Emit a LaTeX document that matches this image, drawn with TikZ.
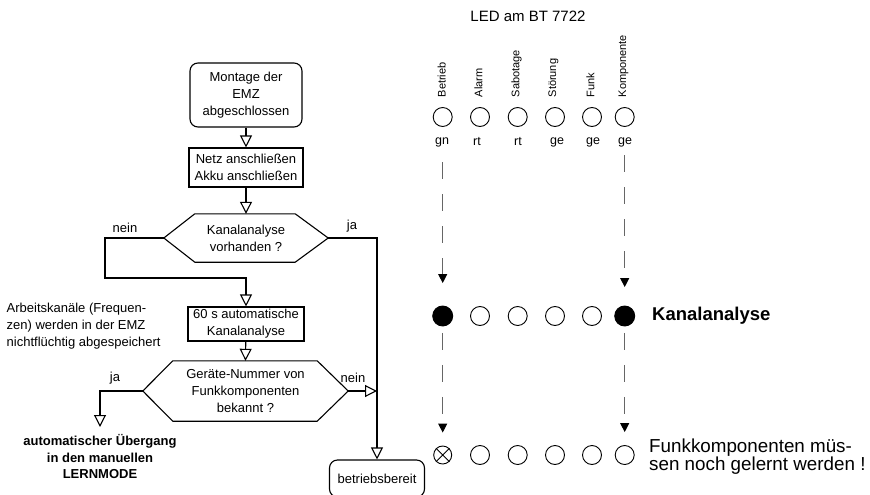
\documentclass[tikz,border=0pt]{standalone}
\usepackage{fontspec}
\setmainfont{Liberation Sans}
\usetikzlibrary{arrows.meta}
\begin{document}
\begin{tikzpicture}[x=1pt,y=-1pt,
  base/.style={font=\fontsize{13}{17}\selectfont, align=center, inner sep=0pt},
  fbox/.style={base, draw, line width=1.1pt},
  rbox/.style={fbox, rounded corners=8pt},
  hexline/.style={line width=1.1pt, line join=miter},
  flow/.style={line width=1.1pt, -{Triangle[open,length=12pt,width=12pt]}},
  led/.style={circle, draw, line width=0.9pt, minimum size=19pt, inner sep=0pt},
  ledon/.style={led, fill=black, minimum size=20pt},
  dline/.style={draw=black!60, line width=1pt, dash pattern=on 17pt off 15pt,
    -{Triangle[length=9pt,width=9pt,color=black]}},
  lbl/.style={base, font=\fontsize{11}{13}\selectfont, rotate=90, anchor=west},
  col/.style={base, font=\fontsize{12.5}{14}\selectfont}
]
\useasboundingbox (0,0) rectangle (870,495);

% ---------- flowchart ----------
\node[rbox, minimum width=112pt, minimum height=64pt] (start) at (246,95)
  {Montage der\\EMZ\\abgeschlossen};
\node[fbox, minimum width=114pt, minimum height=39pt] (netz) at (246,167.5)
  {Netz anschließen\\Akku anschließen};
\node[base, minimum width=164pt, minimum height=48pt] (h1) at (246,238)
  {Kanalanalyse\\vorhanden ?};
\draw[hexline] (h1.west) -- ([xshift=31pt]h1.north west) -- ([xshift=-33pt]h1.north east)
  -- (h1.east) -- ([xshift=-33pt]h1.south east) -- ([xshift=31pt]h1.south west) -- cycle;
\node[fbox, minimum width=116pt, minimum height=34pt] (kan) at (246,324)
  {60 s automatische\\Kanalanalyse};
\node[base, minimum width=205pt, minimum height=60pt] (h2) at (245.5,391)
  {Geräte-Nummer von\\Funkkomponenten\\bekannt ?};
\draw[hexline] (h2.west) -- ([xshift=30pt]h2.north west) -- ([xshift=-31pt]h2.north east)
  -- (h2.east) -- ([xshift=-31pt]h2.south east) -- ([xshift=30pt]h2.south west) -- cycle;
\node[rbox, minimum width=95pt, minimum height=37pt] (bb) at (377,478.5) {betriebsbereit};

\coordinate (nk) at (105,278);
\coordinate (lm) at (100,427);

\draw[flow] (start) -- (netz);
\draw[flow] (netz) -- (h1.north);
\draw[flow] (h1.west) -| (nk) -| (kan.north);
\draw[flow] (h1.east) -| (bb.north);
\draw[flow] (kan) -- (h2.north);
\draw[flow] (h2.east) -- (h2.east -| bb.north);
\draw[flow] (h2.west) -| (lm);

\node[base] (l1) at (125,228) {nein};
\node[base] (l2) at (352,226) {ja};
\node[base] (l3) at (115,378) {ja};
\node[base] (l4) at (353,378) {nein};

\node[base, align=left, anchor=west] (note) at (6.5,326)
  {Arbeitskanäle (Frequen-\\zen) werden in der EMZ\\nichtflüchtig abgespeichert};
\node[base, font=\bfseries\fontsize{13}{16.5}\selectfont] (lern) at (100,457)
  {automatischer Übergang\\in den manuellen\\LERNMODE};

% ---------- LED panel ----------
\node[base, font=\fontsize{15}{18}\selectfont] (title) at (528,16) {LED am BT 7722};

\node[lbl] (b1) at (441.7,97.5) {Betrieb};
\node[lbl] (b2) at (478.5,97.5) {Alarm};
\node[lbl] (b3) at (516.5,97.5) {Sabotage};
\node[lbl] (b4) at (553.5,97.5) {Störung};
\node[lbl] (b5) at (590.5,97.5) {Funk};
\node[lbl] (b6) at (623.5,97.5) {Komponente};

\node[led] (r11) at (442.7,117) {};
\node[led] (r12) at (480,117) {};
\node[led] (r13) at (517.7,117) {};
\node[led] (r14) at (555,117) {};
\node[led] (r15) at (592,117) {};
\node[led] (r16) at (624.7,117) {};

\node[col] (c1) at (442,142) {gn};
\node[col] (c2) at (477,142) {rt};
\node[col] (c3) at (518,142) {rt};
\node[col] (c4) at (557,142) {ge};
\node[col] (c5) at (593,142) {ge};
\node[col] (c6) at (625,142) {ge};

\node[ledon] (r21) at (442.7,316) {};
\node[led] (r22) at (480,316) {};
\node[led] (r23) at (517.7,316) {};
\node[led] (r24) at (555,316) {};
\node[led] (r25) at (592,316) {};
\node[ledon] (r26) at (624.7,316) {};
\node[base, font=\bfseries\fontsize{18.5}{21}\selectfont, anchor=west] (ka) at (652,316) {Kanalanalyse};

\node[led, minimum size=18pt] (r31) at (442.7,455) {};
\draw[line width=0.9pt] (r31.45) -- (r31.225) (r31.135) -- (r31.315);
\node[led] (r32) at (480,455) {};
\node[led] (r33) at (517.7,455) {};
\node[led] (r34) at (555,455) {};
\node[led] (r35) at (592,455) {};
\node[led] (r36) at (624.7,455) {};
\node[base, font=\fontsize{18.8}{18}\selectfont, align=left, anchor=west] (fk) at (649,457)
  {Funkkomponenten müs-\\sen noch gelernt werden !};

\draw[dline, shorten <=35.5pt, shorten >=22.5pt] (r11) -- (r21);
\draw[dline, shorten <=28.5pt, shorten >=18.5pt] (r16) -- (r26);
\draw[dline, shorten <=6.5pt, shorten >=13pt] (r21) -- (r31);
\draw[dline, shorten <=6.5pt, shorten >=13pt] (r26) -- (r36);
\end{tikzpicture}
\end{document}
